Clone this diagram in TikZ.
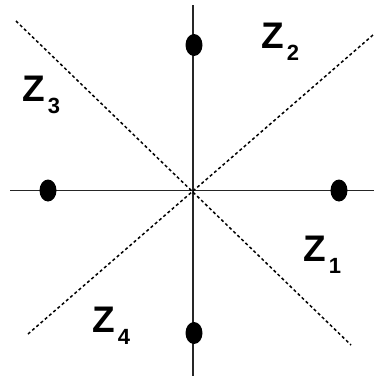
\documentclass[tikz,border=0pt]{standalone}
\usepackage{fontspec}
\setmainfont{Liberation Sans}
\usetikzlibrary{shapes.geometric,positioning}
\newcommand{\zname}[1]{Z\hspace{3pt}\raisebox{-12pt}{\fontsize{22}{22}\selectfont #1}}
\begin{document}
\begin{tikzpicture}[
    x=1pt, y=-1pt,
    axis/.style={line width=1.4pt, black!85},
    divider/.style={line width=1.5pt, dash pattern=on 3pt off 2.6pt},
    zdot/.style={ellipse, fill=black, inner sep=0pt, minimum width=17pt, minimum height=22pt},
    zlabel/.style={anchor=base west, inner sep=0pt, font=\fontsize{37}{37}\selectfont\bfseries}
]
    \useasboundingbox (0,0) rectangle (374,376);

    % axes
    \coordinate (o) at (193,190.5);
    \coordinate (xl) at (10,190.5);
    \coordinate (xr) at (374,190.5);
    \coordinate (yt) at (193,5);
    \coordinate (yb) at (193,376);
    \draw[axis] (xl) -- (xr);
    \draw[axis] (yt) -- (yb);

    % region borders
    \coordinate (d1a) at (16,21);
    \coordinate (d1b) at (351,345);
    \coordinate (d2a) at (373,35);
    \coordinate (d2b) at (28,334);
    \draw[divider] (d1a) -- (d1b);
    \draw[divider] (d2a) -- (d2b);

    % points
    \node[zdot] (pt) at (194,45) {};
    \node[zdot] (pl) at (48,190.5) {};
    \node[zdot] (pr) at (339,190.5) {};
    \node[zdot] (pb) at (194,333) {};

    % labels
    \node[zlabel] (z1) at (303,261) {\zname{1}};
    \node[zlabel] (z2) at (261,48) {\zname{2}};
    \node[zlabel] (z3) at (22,101.5) {\zname{3}};
    \node[zlabel] (z4) at (92,332) {\zname{4}};
\end{tikzpicture}
\end{document}
